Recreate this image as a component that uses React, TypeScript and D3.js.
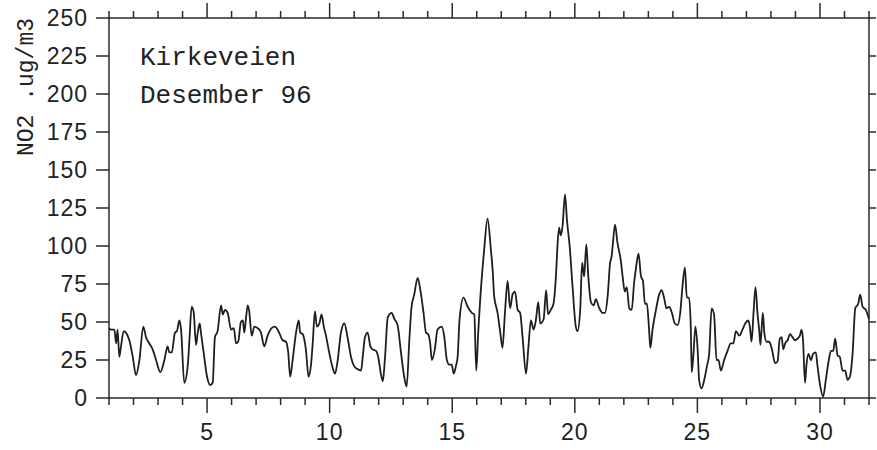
import React from "react";
import * as d3 from "d3";

// Hourly NO2 at Kirkeveien, December 1996 (time in days of month)
const days = [
  1.0, 1.08, 1.22, 1.29, 1.35, 1.42, 1.49, 1.6, 1.69, 1.83, 1.97, 2.1, 2.24, 2.4, 2.51, 2.64, 2.78, 2.92,
  3.09, 3.26, 3.39, 3.46, 3.56, 3.69, 3.77, 3.87, 3.94, 4.07, 4.21, 4.28, 4.37, 4.45, 4.55, 4.62, 4.7,
  4.75, 4.86, 5.0, 5.13, 5.23, 5.32, 5.43, 5.57, 5.64, 5.73, 5.84, 5.98, 6.09, 6.18, 6.27, 6.38, 6.46,
  6.52, 6.59, 6.66, 6.72, 6.82, 6.93, 7.06, 7.2, 7.33, 7.47, 7.63, 7.77, 7.94, 8.08, 8.22, 8.31, 8.39,
  8.49, 8.63, 8.74, 8.8, 8.9, 9.03, 9.14, 9.24, 9.31, 9.4, 9.48, 9.58, 9.67, 9.76, 9.85, 9.98, 10.12,
  10.22, 10.33, 10.46, 10.6, 10.73, 10.87, 11.0, 11.14, 11.28, 11.35, 11.44, 11.55, 11.66, 11.75, 11.89,
  11.98, 12.09, 12.17, 12.26, 12.37, 12.53, 12.64, 12.77, 12.91, 13.04, 13.14, 13.25, 13.34, 13.45,
  13.59, 13.7, 13.83, 13.93, 14.02, 14.1, 14.17, 14.29, 14.4, 14.57, 14.67, 14.78, 14.88, 14.98, 15.06,
  15.15, 15.22, 15.3, 15.46, 15.63, 15.8, 15.9, 15.98, 16.06, 16.2, 16.3, 16.44, 16.58, 16.65, 16.71,
  16.85, 16.96, 17.05, 17.15, 17.26, 17.36, 17.46, 17.56, 17.67, 17.77, 17.87, 18.01, 18.11, 18.21,
  18.32, 18.41, 18.51, 18.59, 18.73, 18.83, 18.91, 19.02, 19.13, 19.23, 19.3, 19.36, 19.43, 19.5, 19.6,
  19.68, 19.79, 19.91, 20.04, 20.11, 20.22, 20.3, 20.38, 20.47, 20.55, 20.66, 20.77, 20.86, 21.0, 21.13,
  21.23, 21.34, 21.44, 21.5, 21.55, 21.64, 21.74, 21.88, 21.95, 22.04, 22.12, 22.22, 22.32, 22.42, 22.5,
  22.6, 22.7, 22.78, 22.86, 22.94, 23.03, 23.08, 23.17, 23.31, 23.44, 23.54, 23.64, 23.74, 23.85, 23.96,
  24.08, 24.19, 24.3, 24.39, 24.49, 24.57, 24.66, 24.73, 24.77, 24.84, 24.92, 25.01, 25.07, 25.17, 25.28,
  25.39, 25.48, 25.58, 25.68, 25.78, 25.86, 25.96, 26.09, 26.23, 26.36, 26.47, 26.57, 26.71, 26.84,
  26.95, 27.07, 27.14, 27.21, 27.29, 27.37, 27.45, 27.53, 27.57, 27.67, 27.73, 27.82, 27.93, 28.04,
  28.17, 28.27, 28.36, 28.44, 28.5, 28.58, 28.68, 28.78, 28.88, 28.99, 29.08, 29.18, 29.25, 29.31, 29.39,
  29.45, 29.53, 29.63, 29.72, 29.83, 29.9, 29.99, 30.13, 30.24, 30.35, 30.45, 30.54, 30.62, 30.72, 30.81,
  30.92, 31.03, 31.12, 31.22, 31.33, 31.44, 31.56, 31.64, 31.74, 31.87, 32.0,
];

const no2 = [
  46, 45, 45, 36, 45, 27, 34, 44, 43, 38, 27, 15, 25, 47, 40, 36, 32, 25,
  17, 25, 34, 30, 30, 43, 44, 51, 45, 10, 21, 38, 60, 57, 35, 43, 49,
  43, 30, 14, 8.5, 10, 40, 44, 61, 55, 58, 56, 45, 46, 36, 37, 50, 51,
  43, 53, 61, 57, 41, 47, 46, 43, 34, 41, 46, 47, 43, 38, 37, 30, 14,
  25, 43, 51, 43, 42, 32, 14, 22, 36, 57, 47, 49, 55, 47, 41, 30, 20,
  16, 25, 43, 49, 40, 27, 21, 19, 18, 27, 40, 43, 34, 32, 31,
  27, 16, 11, 27, 53, 56, 52, 48, 30, 14, 7.5, 38, 60, 68,
  79, 71, 56, 43, 42, 36, 25, 32, 45, 47, 41, 25, 22, 22, 16,
  21, 27, 52, 66, 60, 56, 55, 18, 43, 78, 97, 118, 97, 84, 67,
  56, 43, 33, 56, 77, 59, 68, 70, 58, 56, 40, 16, 34, 51,
  45, 51, 63, 49, 52, 71, 55, 58, 62, 80, 102, 112, 107, 113, 134,
  117, 100, 73, 47, 44, 58, 89, 80, 101, 80, 63, 61, 65, 59, 56,
  56, 67, 89, 93, 101, 114, 102, 90, 80, 70, 73, 59, 58, 76, 86,
  95, 80, 77, 62, 62, 45, 33, 45, 58, 68, 71, 66, 59, 60, 56,
  49, 48, 56, 73, 86, 66, 66, 47, 17, 29, 47, 32, 12, 6.4, 12,
  21, 29, 59, 55, 25, 25, 18, 25, 31, 36, 36, 44, 41, 45,
  49, 51, 47, 37, 56, 73, 56, 43, 35, 56, 43, 37, 37, 32,
  23, 24, 39, 40, 32, 36, 38, 42, 40, 38, 39, 41, 45, 38, 10,
  22, 29, 25, 29, 30, 21, 10, 1, 12, 24, 31, 31, 39, 28, 27,
  18, 18, 12, 14, 29, 59, 62, 68, 60, 58, 52,
];

const yTicks = [0, 25, 50, 75, 100, 125, 150, 175, 200, 225, 250];
const xLabels = [5, 10, 15, 20, 25, 30];
const titleLines = ["Kirkeveien", "Desember 96"];
const yTitle = "NO2 .ug/m3";

const W = 877;
const H = 450;
const left = 109;
const right = 869;
const top = 18;
const bottom = 398;

export default function App() {
  const x = d3.scaleLinear().domain([1, 32]).range([left, right]);
  const y = d3.scaleLinear().domain([0, 250]).range([bottom, top]);
  const pts: [number, number][] = days.map((d, i) => [d, no2[i]]);
  const path = d3
    .line<[number, number]>()
    .x((d) => x(d[0]))
    .y((d) => y(d[1]))
    .curve(d3.curveMonotoneX)(pts) as string;

  const dayTicks = d3.range(1, 33);
  const ink = "#2a2a2a";
  const sans = "'Liberation Sans', Arial, sans-serif";
  const mono = "'Liberation Mono', 'Courier New', monospace";

  return (
    <svg
      width={W}
      height={H}
      style={{ position: "absolute", left: 0, top: 0, background: "#fff" }}
    >
      <rect x={0} y={0} width={W} height={H} fill="#fff" />
      {/* frame */}
      <rect
        x={left}
        y={top}
        width={right - left}
        height={bottom - top}
        fill="none"
        stroke={ink}
        strokeWidth={1.5}
      />
      {/* day ticks, bottom and top */}
      {dayTicks.map((d) => {
        const major = d % 5 === 0;
        const xp = x(d);
        return (
          <g key={"xt" + d}>
            <line x1={xp} x2={xp} y1={bottom} y2={bottom + (major ? 15 : 7)} stroke={ink} strokeWidth={1.5} />
            <line x1={xp} x2={xp} y1={top} y2={top - (major ? 15 : 7)} stroke={ink} strokeWidth={1.5} />
          </g>
        );
      })}
      {xLabels.map((d) => (
        <text
          key={"xl" + d}
          x={x(d)}
          y={440}
          textAnchor="middle"
          fontFamily={sans}
          fontSize={23}
          letterSpacing={1}
          fill="#222"
        >
          {d}
        </text>
      ))}
      {/* value ticks, left and right */}
      {yTicks.map((v) => (
        <g key={"yt" + v}>
          <line x1={left - 13} x2={left} y1={y(v)} y2={y(v)} stroke={ink} strokeWidth={1.5} />
          <line x1={right} x2={right + 7} y1={y(v)} y2={y(v)} stroke={ink} strokeWidth={1.5} />
          <text
            x={88}
            y={y(v)}
            dy="0.36em"
            textAnchor="end"
            fontFamily={sans}
            fontSize={23}
            letterSpacing={1}
            fill="#222"
          >
            {v}
          </text>
        </g>
      ))}
      <text
        transform={`translate(33,87) rotate(-90)`}
        textAnchor="middle"
        fontFamily={mono}
        fontSize={23}
        fill="#222"
      >
        {yTitle}
      </text>
      {titleLines.map((t, i) => (
        <text
          key={t}
          x={140}
          y={65 + i * 37.5}
          fontFamily={mono}
          fontSize={26}
          fill="#222"
        >
          {t}
        </text>
      ))}
      <path d={path} fill="none" stroke="#1e1e1e" strokeWidth={1.8} strokeLinejoin="round" />
    </svg>
  );
}
